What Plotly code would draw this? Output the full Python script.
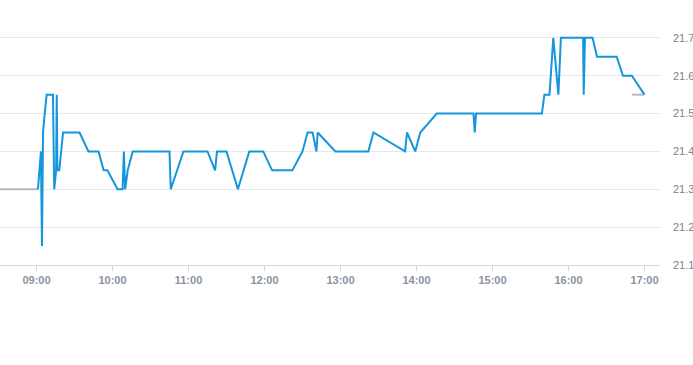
import plotly.graph_objects as go

day = "2024-01-02 "

# Pre-open reference line (grey)
pre_times = ["08:31:12", "09:01:10"]
pre_values = [21.30, 21.30]

# Closing reference line (grey)
close_times = ["16:50:00", "17:00:00"]
close_values = [21.55, 21.55]

# Intraday price line (blue)
times = [
    "09:01:10", "09:03:30", "09:04:20", "09:05:10", "09:06:30", "09:08:00",
    "09:13:00", "09:14:00", "09:15:30", "09:16:00", "09:16:30", "09:18:00",
    "09:21:00", "09:34:00", "09:41:00", "09:49:00", "09:53:00", "09:56:00",
    "10:04:00", "10:08:00", "10:09:00", "10:10:00", "10:12:00", "10:16:00",
    "10:45:00", "10:46:00", "10:56:00", "11:15:00", "11:21:00", "11:22:30",
    "11:30:00", "11:39:00", "11:48:00", "11:59:00", "12:06:00", "12:22:00",
    "12:30:00", "12:34:00", "12:38:00", "12:41:00", "12:42:00", "12:56:00",
    "13:22:00", "13:26:00", "13:51:00", "13:52:30", "13:59:00", "14:03:00",
    "14:16:00", "14:45:00", "14:46:00", "14:47:00", "15:39:00", "15:41:00",
    "15:45:00", "15:48:00", "15:52:00", "15:54:00", "16:11:30", "16:12:00",
    "16:13:00", "16:19:00", "16:22:30", "16:38:00", "16:43:00", "16:50:00",
    "17:00:00",
]
values = [
    21.30, 21.40, 21.15, 21.45, 21.50, 21.55,
    21.55, 21.30, 21.35, 21.55, 21.35, 21.35,
    21.45, 21.45, 21.40, 21.40, 21.35, 21.35,
    21.30, 21.30, 21.40, 21.30, 21.35, 21.40,
    21.40, 21.30, 21.40, 21.40, 21.35, 21.40,
    21.40, 21.30, 21.40, 21.40, 21.35, 21.35,
    21.40, 21.45, 21.45, 21.40, 21.45, 21.40,
    21.40, 21.45, 21.40, 21.45, 21.40, 21.45,
    21.50, 21.50, 21.45, 21.50, 21.50, 21.55,
    21.55, 21.70, 21.55, 21.70, 21.70, 21.55,
    21.70, 21.70, 21.65, 21.65, 21.60, 21.60,
    21.55,
]

x_range = ["08:31:12", "17:12:14"]
y_range = [21.1, 21.8]

fig = go.Figure()
fig.add_trace(go.Scatter(
    x=[day + t for t in pre_times], y=pre_values, mode="lines",
    line=dict(color="#b3bac2", width=2), hoverinfo="skip"))
fig.add_trace(go.Scatter(
    x=[day + t for t in close_times], y=close_values, mode="lines",
    line=dict(color="#b3bac2", width=2), hoverinfo="skip"))
fig.add_trace(go.Scatter(
    x=[day + t for t in times], y=values, mode="lines",
    line=dict(color="#1596dc", width=2)))

fig.update_layout(
    width=693, height=365,
    margin=dict(l=0, r=33, t=0, b=100),
    paper_bgcolor="white", plot_bgcolor="white",
    showlegend=False,
    font=dict(family="Liberation Sans, Arial, sans-serif"),
)
fig.update_xaxes(
    type="date",
    range=[day + x_range[0], day + x_range[1]],
    tick0=day + "09:00:00", dtick=3600000, tickformat="%H:%M",
    showgrid=False, zeroline=False,
    showline=True, linecolor="#d5d9df", linewidth=1,
    ticks="outside", ticklen=5, tickcolor="#d5d9df",
    tickfont=dict(size=11, color="#8a94a0", weight="bold"),
)
fig.update_yaxes(
    side="right", range=y_range, dtick=0.1, tick0=21.1, tickformat=".1f",
    showgrid=True, gridcolor="#e6e8eb", gridwidth=1, zeroline=False,
    showline=False, ticks="",
    ticklabelstandoff=12,
    tickfont=dict(size=11, color="#7b838c"),
)

fig.write_html("out.html")
